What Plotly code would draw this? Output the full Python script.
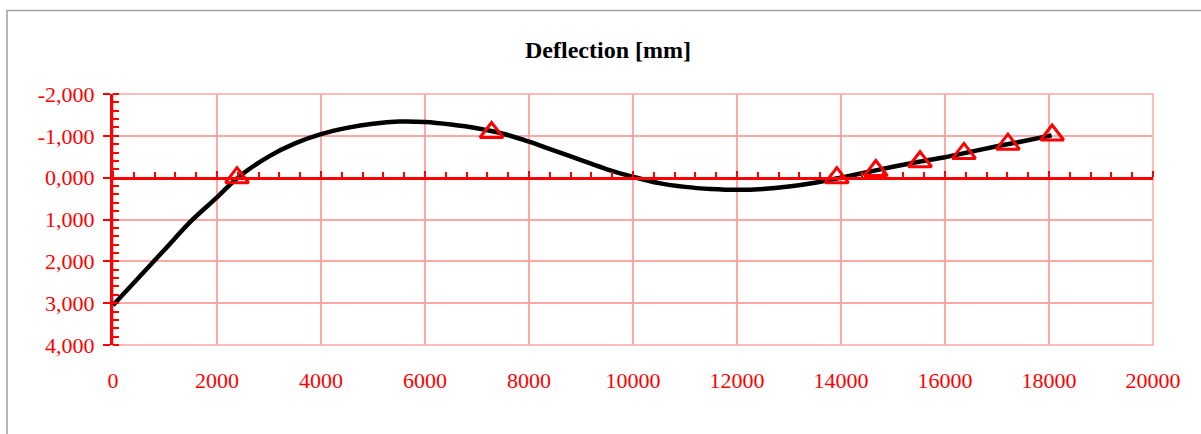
import plotly.graph_objects as go

# deflection line along the beam
pos_mm = [0, 500, 1000, 1500, 2000, 2400, 3000, 3500, 4000, 4500, 5000, 5500,
          6000, 6500, 7000, 7500, 8000, 8500, 9000, 9500, 10000, 10500, 11000,
          11500, 12000, 12500, 13000, 13500, 14000, 14500, 15000, 15500, 16000,
          16500, 17000, 17500, 18050]
deflection = [3.05, 2.38, 1.71, 1.04, 0.47, 0.00, -0.51, -0.82, -1.04, -1.19, -1.29, -1.34,
              -1.33, -1.27, -1.18, -1.05, -0.86, -0.64, -0.42, -0.20, -0.02, 0.13, 0.22,
              0.27, 0.29, 0.27, 0.21, 0.12, 0.00, -0.13, -0.26, -0.38, -0.49,
              -0.62, -0.75, -0.87, -1.01]

# support points (triangles)
support_x = [2385, 7280, 13920, 14670, 15520, 16365, 17210, 18060]
support_y = [0.00, -1.08, 0.00, -0.17, -0.38, -0.58, -0.80, -1.02]

y_ticks = [-2, -1, 0, 1, 2, 3, 4]
y_labels = ["-2,000", "-1,000", "0,000", "1,000", "2,000", "3,000", "4,000"]
x_ticks = [0, 2000, 4000, 6000, 8000, 10000, 12000, 14000, 16000, 18000, 20000]

RED = "#ff0000"
GRID = "#ffa6a6"
SERIF = "Liberation Serif"

fig = go.Figure()
fig.add_trace(go.Scatter(x=pos_mm, y=deflection, mode="lines", line_shape="spline",
                         line=dict(color="black", width=4.5), hoverinfo="skip"))
fig.add_trace(go.Scatter(x=support_x, y=support_y, mode="markers", xaxis="x2", yaxis="y",
                         marker=dict(symbol="triangle-up-open", size=20, color=RED,
                                     line=dict(width=3, color=RED)),
                         hoverinfo="skip"))

L, R, T, B = 113, 48, 94, 89
W, H = 1201, 434
pw, ph = W - L - R, H - T - B


def px_x(p):
    return (p - L) / pw


def px_y(p):
    return (H - B - p) / ph


fig.update_layout(
    template="none",
    width=W, height=H,
    margin=dict(l=L, r=R, t=T, b=B),
    paper_bgcolor="white", plot_bgcolor="white",
    showlegend=False,
    title=dict(text="<b>Deflection [mm]</b>", x=608 / W, xanchor="center",
               y=1 - 50 / H, yanchor="middle", yref="container",
               font=dict(family=SERIF, size=24, color="black")),
    xaxis=dict(range=[0, 20000], tickvals=x_ticks, tickformat="d",
               showgrid=True, gridcolor=GRID, gridwidth=2, zeroline=False,
               showline=False, ticks="", automargin=False,
               tickfont=dict(family=SERIF, size=22, color=RED),
               ticklabelstandoff=20),
    xaxis2=dict(range=[0, 20000], overlaying="x", anchor="free", position=4 / 6,
                side="top", showline=True, linecolor=RED, linewidth=3,
                showgrid=False, zeroline=False,
                showticklabels=False, automargin=False,
                tickvals=x_ticks, ticks="outside", ticklen=6, tickwidth=2,
                tickcolor=RED,
                minor=dict(dtick=400, tick0=0, ticks="outside", ticklen=5,
                           tickwidth=2, tickcolor=RED, showgrid=False)),
    yaxis=dict(range=[4, -2], tickvals=y_ticks, ticktext=y_labels,
               showgrid=True, gridcolor=GRID, gridwidth=2, zeroline=False,
               showline=True, linecolor=RED, linewidth=3, automargin=False,
               ticks="outside", ticklen=7, tickwidth=2, tickcolor=RED,
               minor=dict(dtick=0.2, tick0=0, ticks="inside", ticklen=6,
                          tickwidth=2, tickcolor=RED, showgrid=False),
               tickfont=dict(family=SERIF, size=22, color=RED),
               ticklabelstandoff=4),
    shapes=[
        dict(type="rect", xref="paper", yref="paper", x0=0, x1=1, y0=0, y1=1,
             line=dict(color=GRID, width=1.5), layer="below"),
        dict(type="rect", xref="paper", yref="paper",
             x0=px_x(7), x1=px_x(1215), y0=px_y(445), y1=px_y(10.5),
             line=dict(color="#a0a0a0", width=1.5)),
    ],
)

# page body margin removed so the figure sits at the window corner
fig.write_html("out.html", config={"displayModeBar": False},
               post_script="document.body.style.margin='0';")
